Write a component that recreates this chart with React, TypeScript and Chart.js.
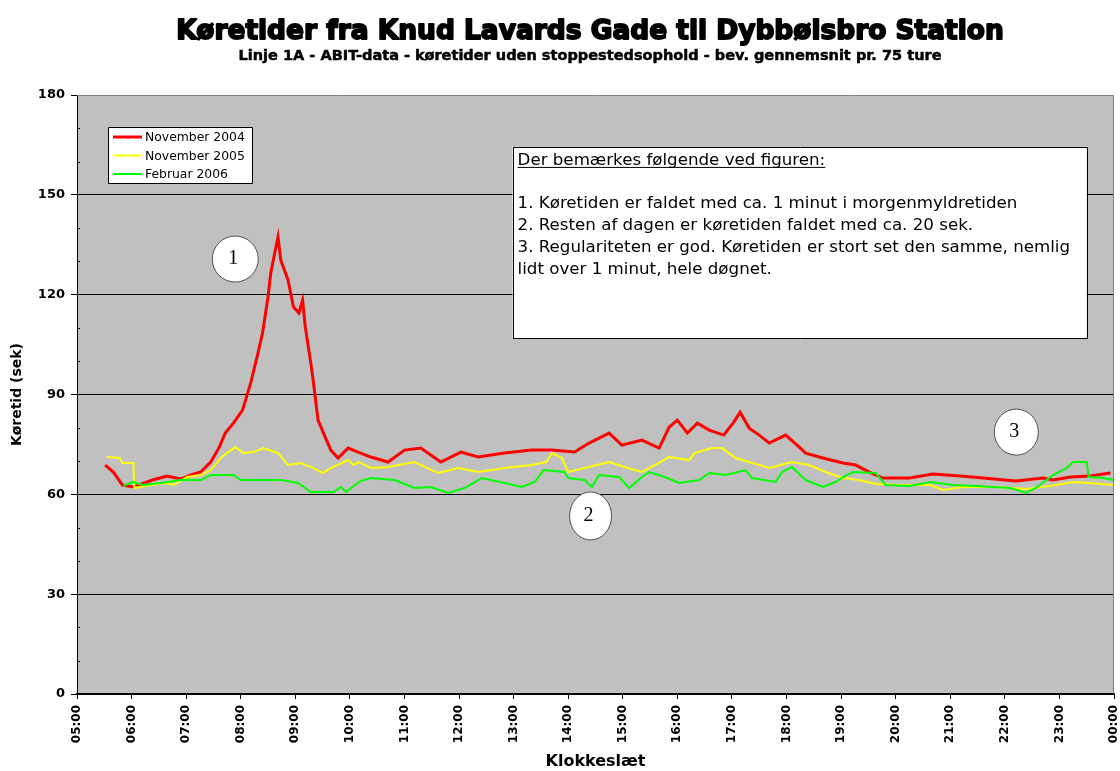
import React, { useEffect, useRef } from "react";
import { Chart, registerables } from "chart.js";

Chart.register(...registerables);

const TITLE = "Køretider fra Knud Lavards Gade til Dybbølsbro Station";
const SUBTITLE =
  "Linje 1A - ABIT-data - køretider uden stoppestedsophold - bev. gennemsnit pr. 75 ture";
const X_TITLE = "Klokkeslæt";
const Y_TITLE = "Køretid (sek)";

const seriesNames = ["November 2004", "November 2005", "Februar 2006"];

const hourTicks = [
  "05:00", "06:00", "07:00", "08:00", "09:00", "10:00", "11:00", "12:00", "13:00", "14:00",
  "15:00", "16:00", "17:00", "18:00", "19:00", "20:00", "21:00", "22:00", "23:00", "00:00",
];
const yTicks = [0, 30, 60, 90, 120, 150, 180];

// November 2004 (red)
const nov2004Times = [
  "05:31", "05:40", "05:50", "06:02", "06:23", "06:39", "06:54", "07:05", "07:16", "07:27",
  "07:36", "07:43", "07:52", "08:02", "08:11", "08:19", "08:24", "08:30", "08:33", "08:38",
  "08:41", "08:44", "08:52", "08:58", "09:04", "09:08", "09:11", "09:17", "09:20", "09:25",
  "09:31", "09:39", "09:47", "09:58", "10:09", "10:23", "10:42", "11:00", "11:18", "11:40",
  "12:02", "12:21", "12:50", "13:20", "13:42", "14:07", "14:23", "14:45", "14:59", "15:21",
  "15:40", "15:51", "16:00", "16:11", "16:22", "16:35", "16:51", "17:02", "17:09", "17:19",
  "17:30", "17:41", "17:59", "18:14", "18:21", "18:40", "19:02", "19:16", "19:31", "19:46",
  "20:15", "20:41", "21:11", "21:36", "22:12", "22:42", "22:53", "23:12", "23:34", "23:56",
];
const nov2004Values = [
  68.8, 66.7, 62.8, 62.2, 64.3, 65.5, 64.6, 65.8, 66.7, 69.7,
  73.9, 78.4, 81.4, 85.3, 93.5, 102.5, 108.5, 119.3, 126.5, 133.4,
  137.3, 130.4, 124.4, 116.3, 114.5, 118.4, 110.3, 99.5, 93.5, 82.3,
  78.4, 73.3, 70.9, 73.9, 72.7, 71.2, 69.7, 73.3, 73.9, 69.7,
  72.7, 71.2, 72.4, 73.3, 73.3, 72.7, 75.4, 78.4, 74.8, 76.3,
  73.9, 80.2, 82.3, 78.4, 81.4, 79.3, 77.8, 81.7, 84.7, 79.9,
  77.8, 75.4, 77.8, 74.2, 72.4, 70.9, 69.4, 68.8, 66.7, 64.9,
  64.9, 66.1, 65.5, 64.9, 64.0, 64.9, 64.3, 65.2, 65.5, 66.4,
];

// November 2005 (yellow)
const nov2005Times = [
  "05:33", "05:47", "05:50", "06:02", "06:03", "06:21", "06:39", "06:46", "07:01", "07:16",
  "07:27", "07:38", "07:45", "07:54", "08:03", "08:14", "08:25", "08:41", "08:52", "09:06",
  "09:20", "09:30", "09:39", "09:58", "10:04", "10:10", "10:23", "10:42", "11:11", "11:37",
  "11:59", "12:21", "12:50", "13:20", "13:36", "13:42", "13:53", "14:00", "14:18", "14:45",
  "15:02", "15:21", "15:35", "15:51", "16:13", "16:19", "16:38", "16:49", "17:04", "17:19",
  "17:41", "18:06", "18:25", "18:43", "19:02", "19:20", "19:38", "20:04", "20:38", "20:52",
  "21:14", "21:50", "22:23", "22:42", "23:15", "23:34", "23:59",
];
const nov2005Values = [
  71.2, 70.9, 69.4, 69.4, 61.9, 62.8, 63.4, 62.8, 65.2, 65.8,
  67.3, 70.9, 72.4, 74.2, 72.4, 72.7, 73.9, 72.4, 68.8, 69.4,
  67.9, 66.4, 67.9, 70.3, 68.8, 69.7, 67.9, 68.2, 69.7, 66.4,
  67.9, 66.7, 67.9, 68.8, 69.7, 72.4, 70.9, 66.7, 67.9, 69.7,
  68.2, 66.7, 68.8, 71.2, 70.3, 72.4, 73.9, 73.9, 70.9, 69.7,
  67.9, 69.7, 68.8, 66.7, 64.9, 64.3, 63.1, 62.8, 62.8, 61.3,
  62.2, 62.2, 61.6, 62.2, 63.7, 63.4, 62.8,
];

// Februar 2006 (green)
const feb2006Times = [
  "05:51", "06:01", "06:13", "06:32", "06:54", "07:16", "07:27", "07:52", "08:00", "08:44",
  "09:03", "09:17", "09:42", "09:50", "09:56", "10:04", "10:12", "10:23", "10:49", "11:11",
  "11:29", "11:48", "12:06", "12:25", "12:50", "13:09", "13:23", "13:33", "13:56", "14:00",
  "14:18", "14:26", "14:34", "14:56", "15:07", "15:21", "15:29", "15:46", "16:02", "16:24",
  "16:35", "16:53", "17:15", "17:22", "17:48", "17:55", "18:06", "18:21", "18:40", "18:54",
  "19:02", "19:13", "19:38", "19:49", "20:15", "20:38", "21:03", "21:28", "22:06", "22:23",
  "22:34", "22:53", "23:08", "23:15", "23:30", "23:32", "23:48", "23:59",
];
const feb2006Values = [
  62.5, 63.7, 62.8, 63.4, 64.3, 64.3, 65.8, 65.8, 64.3, 64.3,
  63.4, 60.7, 60.7, 62.2, 60.7, 62.5, 64.0, 64.9, 64.3, 61.9,
  62.2, 60.4, 61.9, 64.9, 63.4, 62.2, 63.7, 67.3, 66.7, 64.9,
  64.3, 62.2, 65.8, 65.2, 61.9, 65.2, 66.7, 65.2, 63.4, 64.3,
  66.4, 65.8, 67.3, 64.9, 63.7, 66.7, 68.2, 64.3, 62.2, 63.7,
  65.2, 66.7, 66.4, 62.8, 62.5, 63.7, 62.8, 62.5, 61.9, 60.4,
  61.9, 65.8, 67.9, 69.7, 69.7, 65.2, 64.9, 64.3,
];

const noteHeading = "Der bemærkes følgende ved figuren:";
const noteLines = [
  "1. Køretiden er faldet med ca. 1 minut i morgenmyldretiden",
  "2. Resten af dagen er køretiden faldet med ca. 20 sek.",
  "3. Regulariteten er god. Køretiden er stort set den samme, nemlig",
  "lidt over 1 minut, hele døgnet.",
];
const markerLabels = ["1", "2", "3"];

const toHours = (t: string) => {
  const [h, m] = t.split(":").map(Number);
  return h + m / 60;
};
const toPoints = (times: string[], values: number[]) =>
  times.map((t, i) => ({ x: toHours(t), y: values[i] }));

const SANS = "'DejaVu Sans', sans-serif";

function fitSize(ctx: CanvasRenderingContext2D, text: string, weight: string, family: string, width: number) {
  ctx.font = `${weight} 100px ${family}`;
  const w = ctx.measureText(text).width;
  return (100 * width) / w;
}

const decorPlugin = {
  id: "decor",
  beforeDraw(chart: any) {
    const { ctx, chartArea: a } = chart;
    ctx.save();
    ctx.fillStyle = "#ffffff";
    ctx.fillRect(0, 0, chart.width, chart.height);
    ctx.fillStyle = "#C0C0C0";
    ctx.fillRect(a.left, a.top, a.right - a.left, a.bottom - a.top);
    ctx.restore();
  },
  beforeDatasetsDraw(chart: any) {
    const { ctx, chartArea: a, scales } = chart;
    ctx.save();
    ctx.strokeStyle = "#808080";
    ctx.lineWidth = 1;
    ctx.beginPath();
    ctx.moveTo(a.left, a.top + 0.5);
    ctx.lineTo(a.right - 0.5, a.top + 0.5);
    ctx.lineTo(a.right - 0.5, a.bottom);
    ctx.stroke();
    // minor ticks on the y axis (inside)
    ctx.strokeStyle = "#000";
    const y = scales.y;
    for (let v = 10; v < 180; v += 10) {
      if (v % 30 === 0) continue;
      const py = Math.round(y.getPixelForValue(v)) + 0.5;
      ctx.beginPath();
      ctx.moveTo(a.left, py);
      ctx.lineTo(a.left + 3, py);
      ctx.stroke();
    }
    ctx.restore();
  },
  afterDraw(chart: any) {
    const { ctx, scales } = chart;
    const xs = scales.x;
    const ys = scales.y;
    ctx.save();

    // Titles
    const cx = 590;
    ctx.fillStyle = "#000";
    ctx.strokeStyle = "#000";
    ctx.textAlign = "center";
    ctx.textBaseline = "alphabetic";
    let s = fitSize(ctx, TITLE, "bold", SANS, 828);
    ctx.font = `bold ${s}px ${SANS}`;
    ctx.lineWidth = 1.8;
    ctx.lineJoin = "round";
    ctx.fillText(TITLE, cx, 39);
    ctx.strokeText(TITLE, cx, 39);
    s = fitSize(ctx, SUBTITLE, "bold", SANS, 704);
    ctx.font = `bold ${s}px ${SANS}`;
    ctx.lineWidth = 0.5;
    ctx.fillText(SUBTITLE, cx, 60);
    ctx.strokeText(SUBTITLE, cx, 60);

    // Legend
    const lx = 108, ly = 127, lw = 144, lh = 56;
    ctx.fillStyle = "#fff";
    ctx.fillRect(lx, ly, lw, lh);
    ctx.strokeStyle = "#000";
    ctx.lineWidth = 1;
    ctx.strokeRect(lx + 0.5, ly + 0.5, lw, lh);
    const ls = fitSize(ctx, seriesNames[0], "normal", SANS, 100);
    ctx.font = `${ls}px ${SANS}`;
    ctx.textAlign = "left";
    chart.data.datasets.forEach((ds: any, i: number) => {
      const ry = ly + 10 + i * 18.5;
      ctx.strokeStyle = ds.borderColor;
      ctx.lineWidth = ds.borderWidth;
      ctx.beginPath();
      ctx.moveTo(lx + 5, ry);
      ctx.lineTo(lx + 34, ry);
      ctx.stroke();
      ctx.fillStyle = "#000";
      ctx.fillText(ds.label, lx + 37, ry + 4);
    });

    // Note box
    const bx1 = xs.getPixelForValue(12.98);
    const bx2 = xs.getPixelForValue(23.5);
    const by1 = ys.getPixelForValue(164.4);
    const by2 = ys.getPixelForValue(107.0);
    ctx.fillStyle = "#fff";
    ctx.fillRect(bx1, by1, bx2 - bx1, by2 - by1);
    ctx.strokeStyle = "#000";
    ctx.lineWidth = 1;
    ctx.strokeRect(Math.round(bx1) + 0.5, Math.round(by1) + 0.5, Math.round(bx2 - bx1), Math.round(by2 - by1));
    const ns = fitSize(ctx, noteLines[2], "normal", SANS, 553);
    ctx.font = `${ns}px ${SANS}`;
    ctx.fillStyle = "#000";
    ctx.textAlign = "left";
    const tx = bx1 + 5;
    ctx.fillText(noteHeading, tx, by1 + 18);
    const hw = ctx.measureText(noteHeading).width;
    ctx.fillRect(tx, by1 + 20, hw, 1);
    noteLines.forEach((line, i) => {
      ctx.fillText(line, tx, by1 + 61 + i * 22);
    });

    // Numbered markers
    const markers = [
      { x: 7.9, y: 130.7, rx: 23, ry: 23 },
      { x: 14.41, y: 53.5, rx: 21, ry: 24 },
      { x: 22.21, y: 78.7, rx: 22, ry: 23 },
    ];
    markers.forEach((m, i) => {
      const px = xs.getPixelForValue(m.x);
      const py = ys.getPixelForValue(m.y);
      ctx.beginPath();
      ctx.ellipse(px, py, m.rx, m.ry, 0, 0, Math.PI * 2);
      ctx.fillStyle = "#fff";
      ctx.fill();
      ctx.strokeStyle = "#505050";
      ctx.lineWidth = 1;
      ctx.stroke();
      ctx.fillStyle = "#000";
      ctx.font = `20px 'Liberation Serif', serif`;
      ctx.textAlign = "center";
      ctx.textBaseline = "middle";
      ctx.fillText(markerLabels[i], px - 2, py);
    });
    ctx.restore();
  },
};

export default function App() {
  const ref = useRef<HTMLCanvasElement>(null);
  useEffect(() => {
    if (!ref.current) return;
    const chart = new Chart(ref.current, {
      type: "line",
      data: {
        datasets: [
          {
            label: seriesNames[0],
            data: toPoints(nov2004Times, nov2004Values),
            borderColor: "#FF0000",
            borderWidth: 3,
            pointRadius: 0,
            tension: 0,
            order: 3,
          },
          {
            label: seriesNames[1],
            data: toPoints(nov2005Times, nov2005Values),
            borderColor: "#FFFF00",
            borderWidth: 2,
            pointRadius: 0,
            tension: 0,
            order: 2,
          },
          {
            label: seriesNames[2],
            data: toPoints(feb2006Times, feb2006Values),
            borderColor: "#00FF00",
            borderWidth: 2,
            pointRadius: 0,
            tension: 0,
            order: 1,
          },
        ],
      },
      options: {
        responsive: false,
        animation: false,
        events: [],
        layout: { padding: { top: 95, right: 6, left: 0, bottom: 0 } },
        plugins: {
          legend: { display: false },
          title: { display: false },
          tooltip: { enabled: false },
        },
        scales: {
          x: {
            type: "linear",
            min: 5,
            max: 24,
            ticks: {
              stepSize: 1,
              autoSkip: false,
              maxRotation: 90,
              minRotation: 90,
              padding: 6,
              color: "#000",
              font: { family: SANS, weight: "bold", size: 12 },
              callback: (v: any) => hourTicks[Math.round(Number(v)) - 5],
            },
            grid: { drawOnChartArea: false, drawTicks: true, tickLength: 5, tickColor: "#000" },
            border: { color: "#000", width: 2 },
            title: {
              display: true,
              text: X_TITLE,
              color: "#000",
              font: { family: SANS, weight: "bold", size: 16 },
              padding: { top: 0, bottom: 0 },
            },
            afterFit: (s: any) => {
              s.height = 771 - 694;
              s.paddingLeft = 0;
              s.paddingRight = 0;
            },
          },
          y: {
            min: 0,
            max: 180,
            afterBuildTicks: (s: any) => {
              s.ticks = yTicks.map((v) => ({ value: v }));
            },
            ticks: {
              padding: 6,
              color: "#000",
              font: { family: SANS, weight: "bold", size: 13 },
            },
            grid: {
              color: (c: any) =>
                c.tick && (c.tick.value === 0 || c.tick.value === 180) ? "rgba(0,0,0,0)" : "#000",
              tickColor: "#000",
              tickLength: 6,
              lineWidth: 1,
            },
            border: { color: "#000", width: 1 },
            title: {
              display: true,
              text: Y_TITLE,
              color: "#000",
              font: { family: SANS, weight: "bold", size: 14 },
              padding: { top: 9, bottom: 0 },
            },
            afterFit: (s: any) => {
              s.width = 77;
              s.paddingTop = 0;
              s.paddingBottom = 0;
            },
          },
        },
      },
      plugins: [decorPlugin],
    } as any);
    return () => chart.destroy();
  }, []);
  return (
    <div style={{ position: "absolute", left: 0, top: 0, width: 1120, height: 771 }}>
      <canvas ref={ref} width={1120} height={771} />
    </div>
  );
}
